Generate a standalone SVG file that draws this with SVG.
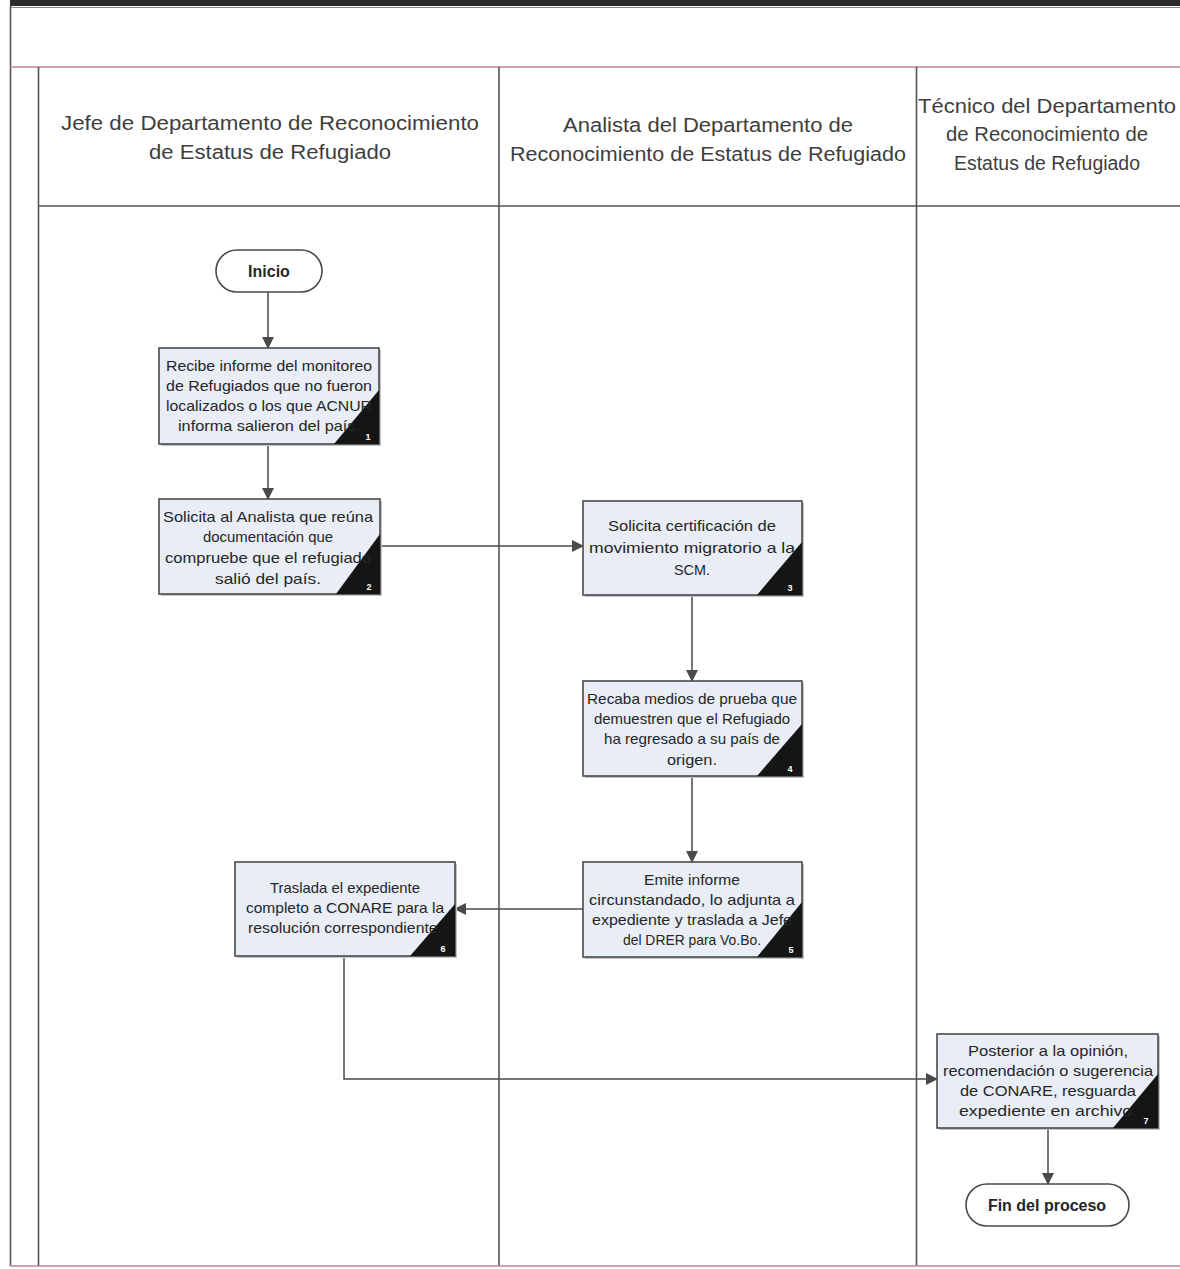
<svg xmlns="http://www.w3.org/2000/svg" width="1180" height="1269" viewBox="0 0 1180 1269">
  <defs>
    <marker id="arrow" viewBox="0 0 12 12" refX="11" refY="6" markerWidth="12" markerHeight="12" markerUnits="userSpaceOnUse" orient="auto">
      <path d="M0,0 L12,6 L0,12 Z" fill="#4a4a4a"/>
    </marker>
  </defs>
  <style>
    .frame { stroke: #555; stroke-width: 1.6; fill: none; }
    .pink { stroke: #b88a92; stroke-width: 1.6; fill: none; }
    .head { font-family: "Liberation Sans", Arial, sans-serif; font-size: 20px; fill: #3e3e3e; text-anchor: middle; }
    .box { fill: #e8edf6; stroke: #4a4a4a; stroke-width: 1.6; }
    .shadow { fill: #c4c4c4; }
    .corner { fill: #151515; }
    .num { font-family: "Liberation Sans", Arial, sans-serif; font-size: 9px; font-weight: bold; fill: #ffffff; text-anchor: middle; }
    .txt { font-family: "Liberation Sans", Arial, sans-serif; font-size: 14.5px; fill: #262626; text-anchor: middle; }
    .term { fill: #ffffff; stroke: #4a4a4a; stroke-width: 1.6; }
    .termtxt { font-family: "Liberation Sans", Arial, sans-serif; font-size: 16px; font-weight: bold; fill: #262626; text-anchor: middle; }
    .conn { stroke: #4a4a4a; stroke-width: 1.5; fill: none; }
  </style>

  <rect width="1180" height="1269" fill="#ffffff"/>

  <!-- page frame and swimlane grid -->
  <g id="frame">
    <rect x="10" y="0" width="1170" height="6" fill="#2a2a2a"/>
    <line x1="10" y1="7.5" x2="1180" y2="7.5" stroke="#8a8a8a" stroke-width="1"/>
    <line class="frame" x1="10.5" y1="6" x2="10.5" y2="1266"/>
    <line class="pink" x1="10" y1="67" x2="1180" y2="67"/>
    <line class="frame" x1="38.5" y1="67" x2="38.5" y2="1266"/>
    <line class="frame" x1="499" y1="67" x2="499" y2="1266"/>
    <line class="frame" x1="916.5" y1="67" x2="916.5" y2="1266"/>
    <line class="frame" x1="38" y1="206" x2="1180" y2="206"/>
    <line class="pink" x1="10" y1="1266" x2="1180" y2="1266"/>
  </g>

  <!-- lane headers -->
  <g id="lane-jefe">
    <text class="head" x="270" y="130" textLength="418" lengthAdjust="spacingAndGlyphs">Jefe de Departamento de Reconocimiento</text>
    <text class="head" x="270" y="159" textLength="242" lengthAdjust="spacingAndGlyphs">de Estatus de Refugiado</text>
  </g>
  <g id="lane-analista">
    <text class="head" x="708" y="132" textLength="290" lengthAdjust="spacingAndGlyphs">Analista del Departamento de</text>
    <text class="head" x="708" y="161" textLength="396" lengthAdjust="spacingAndGlyphs">Reconocimiento de Estatus de Refugiado</text>
  </g>
  <g id="lane-tecnico">
    <text class="head" x="1047" y="113" textLength="258" lengthAdjust="spacingAndGlyphs">Técnico del Departamento</text>
    <text class="head" x="1047" y="141" textLength="202" lengthAdjust="spacingAndGlyphs">de Reconocimiento de</text>
    <text class="head" x="1047" y="170" textLength="186" lengthAdjust="spacingAndGlyphs">Estatus de Refugiado</text>
  </g>

  <!-- connectors -->
  <g id="connectors">
    <line class="conn" x1="268" y1="292" x2="268" y2="348" marker-end="url(#arrow)"/>
    <line class="conn" x1="268" y1="444" x2="268" y2="499" marker-end="url(#arrow)"/>
    <line class="conn" x1="380" y1="546" x2="583" y2="546" marker-end="url(#arrow)"/>
    <line class="conn" x1="692" y1="595" x2="692" y2="681" marker-end="url(#arrow)"/>
    <line class="conn" x1="692" y1="776" x2="692" y2="862" marker-end="url(#arrow)"/>
    <line class="conn" x1="583" y1="909" x2="455" y2="909" marker-end="url(#arrow)"/>
    <polyline class="conn" points="344,956 344,1079 937,1079" marker-end="url(#arrow)"/>
    <line class="conn" x1="1048" y1="1128" x2="1048" y2="1184" marker-end="url(#arrow)"/>
  </g>

  <!-- start -->
  <g id="inicio">
    <rect class="term" x="216" y="250" width="106" height="42" rx="21"/>
    <text class="termtxt" x="269" y="277">Inicio</text>
  </g>

  <!-- step 1 -->
  <g id="step1">
    <rect class="shadow" x="161" y="350" width="220" height="96"/>
    <rect class="box" x="159" y="348" width="220" height="96"/>
    <path class="corner" d="M334,444 L379,390 L379,444 Z"/>
    <text class="num" x="368" y="440">1</text>
    <text class="txt" x="269" y="371" textLength="206" lengthAdjust="spacingAndGlyphs">Recibe informe del monitoreo</text>
    <text class="txt" x="269" y="391" textLength="206" lengthAdjust="spacingAndGlyphs">de Refugiados que no fueron</text>
    <text class="txt" x="269" y="411" textLength="206" lengthAdjust="spacingAndGlyphs">localizados o los que ACNUR</text>
    <text class="txt" x="269" y="431" textLength="182" lengthAdjust="spacingAndGlyphs">informa salieron del país.</text>
  </g>

  <!-- step 2 -->
  <g id="step2">
    <rect class="shadow" x="161" y="501" width="221" height="95"/>
    <rect class="box" x="159" y="499" width="221" height="95"/>
    <path class="corner" d="M336,594 L380,534 L380,594 Z"/>
    <text class="num" x="369" y="590">2</text>
    <text class="txt" x="268" y="522" textLength="210" lengthAdjust="spacingAndGlyphs">Solicita al Analista que reúna</text>
    <text class="txt" x="268" y="542" textLength="130" lengthAdjust="spacingAndGlyphs">documentación que</text>
    <text class="txt" x="268" y="563" textLength="206" lengthAdjust="spacingAndGlyphs">compruebe que el refugiado</text>
    <text class="txt" x="268" y="584" textLength="106" lengthAdjust="spacingAndGlyphs">salió del país.</text>
  </g>

  <!-- step 3 -->
  <g id="step3">
    <rect class="shadow" x="585" y="503" width="219" height="94"/>
    <rect class="box" x="583" y="501" width="219" height="94"/>
    <path class="corner" d="M757,595 L802,542 L802,595 Z"/>
    <text class="num" x="790" y="591">3</text>
    <text class="txt" x="692" y="531" textLength="168" lengthAdjust="spacingAndGlyphs">Solicita certificación de</text>
    <text class="txt" x="692" y="553" textLength="206" lengthAdjust="spacingAndGlyphs">movimiento migratorio a la</text>
    <text class="txt" x="692" y="575" textLength="36" lengthAdjust="spacingAndGlyphs">SCM.</text>
  </g>

  <!-- step 4 -->
  <g id="step4">
    <rect class="shadow" x="585" y="683" width="219" height="95"/>
    <rect class="box" x="583" y="681" width="219" height="95"/>
    <path class="corner" d="M757,776 L802,724 L802,776 Z"/>
    <text class="num" x="790" y="772">4</text>
    <text class="txt" x="692" y="704" textLength="210" lengthAdjust="spacingAndGlyphs">Recaba medios de prueba que</text>
    <text class="txt" x="692" y="724" textLength="196" lengthAdjust="spacingAndGlyphs">demuestren que el Refugiado</text>
    <text class="txt" x="692" y="744" textLength="176" lengthAdjust="spacingAndGlyphs">ha regresado a su país de</text>
    <text class="txt" x="692" y="765" textLength="50" lengthAdjust="spacingAndGlyphs">origen.</text>
  </g>

  <!-- step 5 -->
  <g id="step5">
    <rect class="shadow" x="585" y="864" width="219" height="95"/>
    <rect class="box" x="583" y="862" width="219" height="95"/>
    <path class="corner" d="M757,957 L802,902 L802,957 Z"/>
    <text class="num" x="791" y="953">5</text>
    <text class="txt" x="692" y="885" textLength="96" lengthAdjust="spacingAndGlyphs">Emite informe</text>
    <text class="txt" x="692" y="905" textLength="206" lengthAdjust="spacingAndGlyphs">circunstandado, lo adjunta a</text>
    <text class="txt" x="692" y="925" textLength="200" lengthAdjust="spacingAndGlyphs">expediente y traslada a Jefe</text>
    <text class="txt" x="692" y="945" textLength="138" lengthAdjust="spacingAndGlyphs">del DRER para Vo.Bo.</text>
  </g>

  <!-- step 6 -->
  <g id="step6">
    <rect class="shadow" x="237" y="864" width="220" height="94"/>
    <rect class="box" x="235" y="862" width="220" height="94"/>
    <path class="corner" d="M410,956 L455,904 L455,956 Z"/>
    <text class="num" x="443" y="952">6</text>
    <text class="txt" x="345" y="893" textLength="150" lengthAdjust="spacingAndGlyphs">Traslada el expediente</text>
    <text class="txt" x="345" y="913" textLength="198" lengthAdjust="spacingAndGlyphs">completo a CONARE para la</text>
    <text class="txt" x="345" y="933" textLength="194" lengthAdjust="spacingAndGlyphs">resolución correspondiente.</text>
  </g>

  <!-- step 7 -->
  <g id="step7">
    <rect class="shadow" x="939" y="1036" width="221" height="94"/>
    <rect class="box" x="937" y="1034" width="221" height="94"/>
    <path class="corner" d="M1113,1128 L1158,1074 L1158,1128 Z"/>
    <text class="num" x="1146" y="1124">7</text>
    <text class="txt" x="1048" y="1056" textLength="160" lengthAdjust="spacingAndGlyphs">Posterior a la opinión,</text>
    <text class="txt" x="1048" y="1076" textLength="210" lengthAdjust="spacingAndGlyphs">recomendación o sugerencia</text>
    <text class="txt" x="1048" y="1096" textLength="176" lengthAdjust="spacingAndGlyphs">de CONARE, resguarda</text>
    <text class="txt" x="1048" y="1116" textLength="178" lengthAdjust="spacingAndGlyphs">expediente en archivo.</text>
  </g>

  <!-- end -->
  <g id="fin">
    <rect class="term" x="966" y="1184" width="163" height="42" rx="21"/>
    <text class="termtxt" x="1047" y="1211">Fin del proceso</text>
  </g>
</svg>
